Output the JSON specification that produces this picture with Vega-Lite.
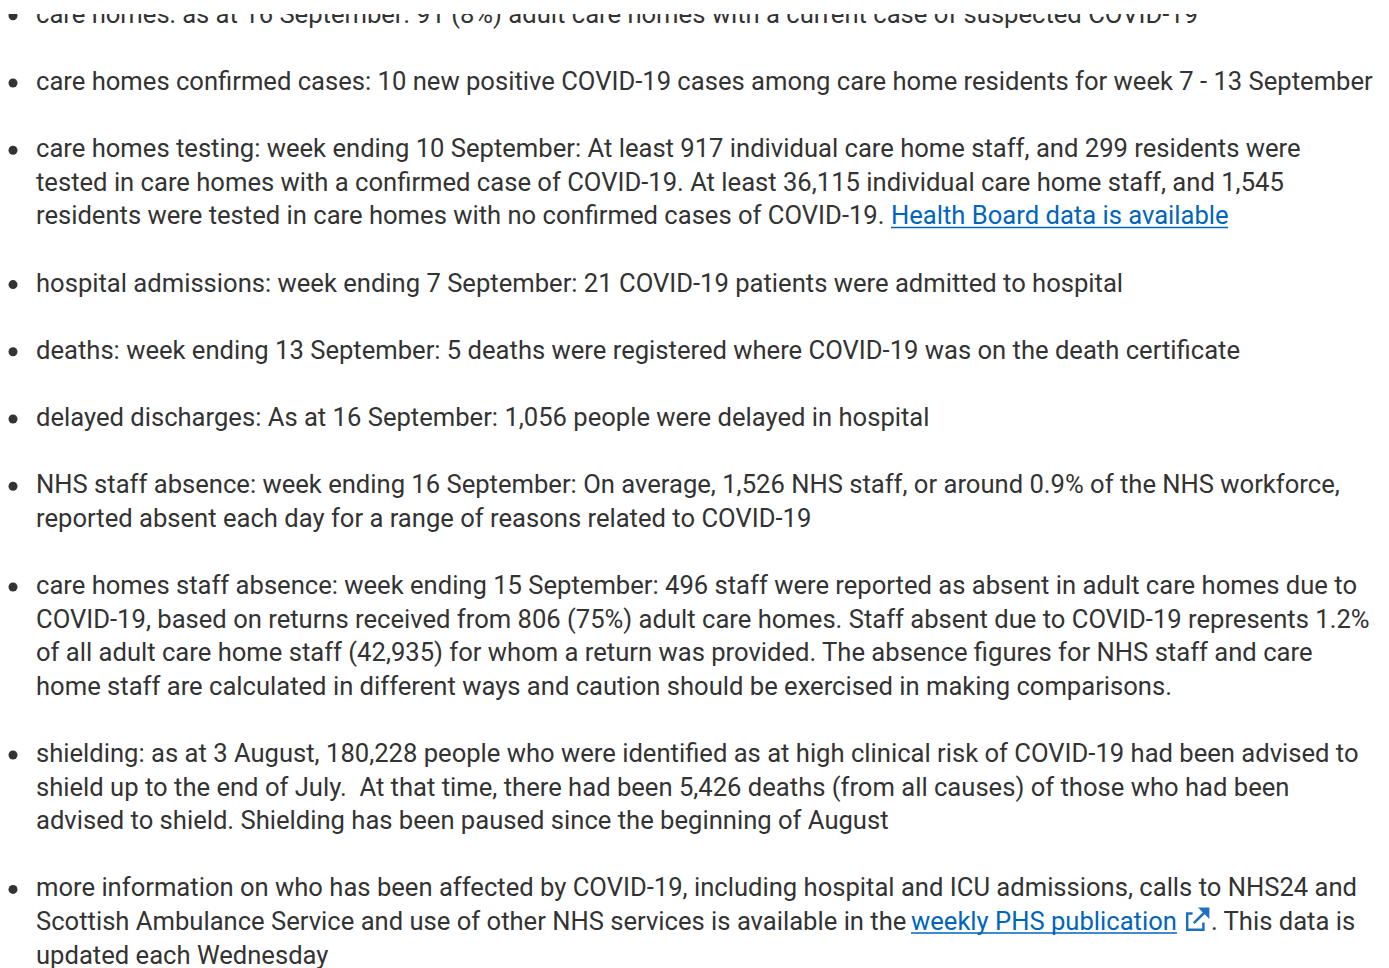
{
  "$schema": "https://vega.github.io/schema/vega-lite/v6.json",
  "autosize": {"type": "fit", "contains": "padding"},
  "width": 1389,
  "height": 968,
  "padding": {"top": 14, "left": 0, "right": 0, "bottom": 0},
  "background": "#ffffff",
  "config": {"view": {"stroke": null}},
  "data": {
    "values": [
      {"slot": 0, "kind": "bullet", "x": 13},
      {"slot": 0, "kind": "text", "x": 36, "text": "care homes: as at 16 September: 91 (8%) adult care homes with a current case of suspected COVID-19"},
      {"slot": 2, "kind": "bullet", "x": 13},
      {"slot": 2, "kind": "text", "x": 36, "text": "care homes confirmed cases: 10 new positive COVID-19 cases among care home residents for week 7 - 13 September"},
      {"slot": 4, "kind": "bullet", "x": 13},
      {"slot": 4, "kind": "text", "x": 36, "text": "care homes testing: week ending 10 September: At least 917 individual care home staff, and 299 residents were"},
      {"slot": 5, "kind": "text", "x": 36, "text": "tested in care homes with a confirmed case of COVID-19. At least 36,115 individual care home staff, and 1,545"},
      {"slot": 6, "kind": "text", "x": 36, "text": "residents were tested in care homes with no confirmed cases of COVID-19."},
      {"slot": 6, "kind": "link", "x": 891, "x2": 1228, "text": "Health Board data is available"},
      {"slot": 8, "kind": "bullet", "x": 13},
      {"slot": 8, "kind": "text", "x": 36, "text": "hospital admissions: week ending 7 September: 21 COVID-19 patients were admitted to hospital"},
      {"slot": 10, "kind": "bullet", "x": 13},
      {"slot": 10, "kind": "text", "x": 36, "text": "deaths: week ending 13 September: 5 deaths were registered where COVID-19 was on the death certificate"},
      {"slot": 12, "kind": "bullet", "x": 13},
      {"slot": 12, "kind": "text", "x": 36, "text": "delayed discharges: As at 16 September: 1,056 people were delayed in hospital"},
      {"slot": 14, "kind": "bullet", "x": 13},
      {"slot": 14, "kind": "text", "x": 36, "text": "NHS staff absence: week ending 16 September: On average, 1,526 NHS staff, or around 0.9% of the NHS workforce,"},
      {"slot": 15, "kind": "text", "x": 36, "text": "reported absent each day for a range of reasons related to COVID-19"},
      {"slot": 17, "kind": "bullet", "x": 13},
      {"slot": 17, "kind": "text", "x": 36, "text": "care homes staff absence: week ending 15 September: 496 staff were reported as absent in adult care homes due to"},
      {"slot": 18, "kind": "text", "x": 36, "text": "COVID-19, based on returns received from 806 (75%) adult care homes. Staff absent due to COVID-19 represents 1.2%"},
      {"slot": 19, "kind": "text", "x": 36, "text": "of all adult care home staff (42,935) for whom a return was provided. The absence figures for NHS staff and care"},
      {"slot": 20, "kind": "text", "x": 36, "text": "home staff are calculated in different ways and caution should be exercised in making comparisons."},
      {"slot": 22, "kind": "bullet", "x": 13},
      {"slot": 22, "kind": "text", "x": 36, "text": "shielding: as at 3 August, 180,228 people who were identified as at high clinical risk of COVID-19 had been advised to"},
      {"slot": 23, "kind": "text", "x": 36, "text": "shield up to the end of July.\u00a0 At that time, there had been 5,426 deaths (from all causes) of those who had been"},
      {"slot": 24, "kind": "text", "x": 36, "text": "advised to shield. Shielding has been paused since the beginning of August"},
      {"slot": 26, "kind": "bullet", "x": 13},
      {"slot": 26, "kind": "text", "x": 36, "text": "more information on who has been affected by COVID-19, including hospital and ICU admissions, calls to NHS24 and"},
      {"slot": 27, "kind": "text", "x": 36, "text": "Scottish Ambulance Service and use of other NHS services is available in the"},
      {"slot": 27, "kind": "link", "x": 911, "x2": 1177, "text": "weekly PHS publication"},
      {"slot": 27, "kind": "icon", "x": 1198},
      {"slot": 27, "kind": "text", "x": 1211, "text": ". This data is"},
      {"slot": 28, "kind": "text", "x": 36, "text": "updated each Wednesday"}
    ]
  },
  "encoding": {
    "x": {"field": "x", "type": "quantitative", "scale": {"domain": [0, 1389], "nice": false, "zero": false}, "axis": null},
    "y": {"field": "slot", "type": "quantitative", "scale": {"domain": [-0.262, 28.131], "reverse": true, "nice": false, "zero": false}, "axis": null}
  },
  "layer": [
    {
      "transform": [{"filter": "datum.kind === 'text' || datum.kind === 'link'"}],
      "mark": {"type": "text", "align": "left", "baseline": "alphabetic", "font": "Roboto", "fontSize": 25.6, "clip": true},
      "encoding": {
        "text": {"field": "text", "type": "nominal"},
        "color": {"field": "kind", "type": "nominal", "scale": {"domain": ["text", "link"], "range": ["#333333", "#0065bd"]}, "legend": null}
      }
    },
    {
      "transform": [{"filter": "datum.kind === 'link'"}],
      "mark": {"type": "rule", "color": "#0065bd", "strokeWidth": 1.5, "yOffset": 3, "clip": true},
      "encoding": {
        "x2": {"field": "x2"}
      }
    },
    {
      "transform": [{"filter": "datum.kind === 'bullet'"}],
      "mark": {"type": "point", "shape": "circle", "filled": true, "color": "#333333", "opacity": 1, "size": 81, "yOffset": -7, "clip": true},
      "encoding": {}
    },
    {
      "transform": [{"filter": "datum.kind === 'icon'"}],
      "mark": {"type": "point", "shape": "M-0.45,-0.45 L-0.9,-0.45 L-0.9,0.9 L0.45,0.9 L0.45,0.3 M-0.35,0.35 L0.5,-0.5", "filled": false, "stroke": "#1f6fbf", "strokeWidth": 2.5, "opacity": 1, "size": 576, "yOffset": -11, "clip": true},
      "encoding": {}
    },
    {
      "transform": [{"filter": "datum.kind === 'icon'"}],
      "mark": {"type": "point", "shape": "M0.0,-0.95 L0.95,-0.95 L0.95,0.0 Z", "filled": true, "fill": "#1f6fbf", "opacity": 1, "size": 576, "yOffset": -11, "clip": true},
      "encoding": {}
    }
  ]
}
